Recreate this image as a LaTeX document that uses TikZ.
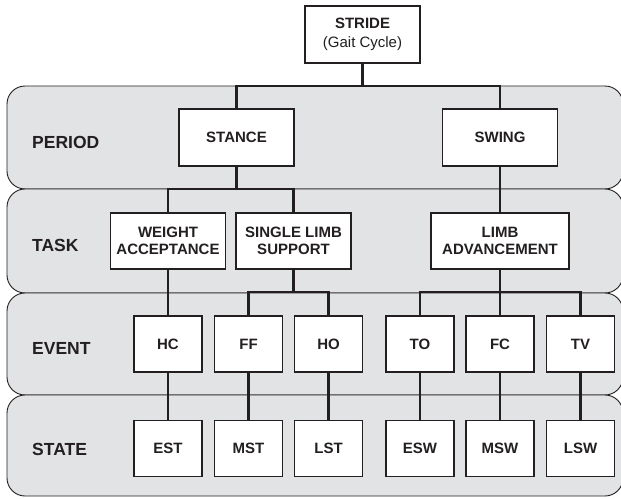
\documentclass[tikz,border=0pt]{standalone}
\usepackage{fontspec}
\setmainfont{Liberation Sans}
\usepackage{tikz}
\usepackage{xcolor}
\usetikzlibrary{positioning}
\definecolor{gaitink}{RGB}{35,31,32}
\definecolor{gaitband}{RGB}{226,227,229}

\begin{document}
\begin{tikzpicture}[x=1pt,y=-1pt,node distance=47pt,
        band/.style={draw=gaitink,fill=gaitband,line width=0.9pt,rounded corners=18pt},
        bandlabel/.style={anchor=west,inner sep=0pt,text=gaitink,
          font=\fontsize{17.5}{20}\selectfont\bfseries},
        box/.style={rectangle,draw=gaitink,fill=white,line width=1.1pt,inner sep=0pt,
          minimum width=115pt,minimum height=57pt,align=center,text=gaitink,
          font=\fontsize{15}{17}\selectfont\bfseries},
        evbox/.style={box,minimum width=68pt,minimum height=56pt},
        link/.style={draw=gaitink,line width=2.2pt}]
        \useasboundingbox (0,0) rectangle (621,498);
        % layer bands
        \foreach \top/\bot/\ly/\lab in {86/189/142/PERIOD,189/293/245/TASK,293/395/348/EVENT,395/496/449/STATE}{
          \draw[band] (7,\top) rectangle (623,\bot);
          \node[bandlabel] (lbl-\lab) at (32,\ly) {\lab};
        }
        % nodes
        \node[box,line width=2.4pt,font=\fontsize{15}{19}\selectfont] (stride) at (362.5,34.5) {\textbf{STRIDE}\\(Gait Cycle)};
        \node[box] (stance) at (236.5,137.5) {STANCE};
        \node[box] (swing) at (500,137.5) {SWING};
        \node[box,minimum height=56pt] (wa) at (168,241) {WEIGHT\\ACCEPTANCE};
        \node[box,minimum height=56pt] (sls) at (293.5,241) {SINGLE LIMB\\SUPPORT};
        \node[box,minimum width=138pt,minimum height=56pt] (la) at (500,241) {LIMB\\ADVANCEMENT};
        \node[evbox] (hc) at (168,344) {HC};
        \node[evbox] (ff) at (248.5,344) {FF};
        \node[evbox] (ho) at (328.5,344) {HO};
        \node[evbox] (to) at (420,344) {TO};
        \node[evbox] (fc) at (500,344) {FC};
        \node[evbox] (tv) at (580.5,344) {TV};
        \node[evbox,below=of hc] (est) {EST};
        \node[evbox,below=of ff] (mst) {MST};
        \node[evbox,below=of ho] (lst) {LST};
        \node[evbox,below=of to] (esw) {ESW};
        \node[evbox,below=of fc] (msw) {MSW};
        \node[evbox,below=of tv] (lsw) {LSW};
        % bus points on band edges
        \coordinate (bus1) at (362.5,86);
        \coordinate (bus2) at (236.5,189);
        \coordinate (bus3) at (293.5,292);
        \coordinate (bus4) at (500,292);
        % connectors
        \draw[link] (stride.south) -- (bus1);
        \draw[link] (stance.north) |- (bus1) -| (swing.north);
        \draw[link] (stance.south) -- (bus2);
        \draw[link] (wa.north) |- (bus2) -| (sls.north);
        \draw[link] (swing) -- (la);
        \draw[link] (wa) -- (hc);
        \draw[link] (sls.south) -- (bus3);
        \draw[link] (ff.north) |- (bus3) -| (ho.north);
        \draw[link] (la.south) -- (bus4);
        \draw[link] (to.north) |- (bus4) -| (tv.north);
        \draw[link] (fc.north) -- (bus4);
        \draw[link] (hc) -- (est);
        \draw[link] (ff) -- (mst);
        \draw[link] (ho) -- (lst);
        \draw[link] (to) -- (esw);
        \draw[link] (fc) -- (msw);
        \draw[link] (tv) -- (lsw);
      \end{tikzpicture}
\end{document}
